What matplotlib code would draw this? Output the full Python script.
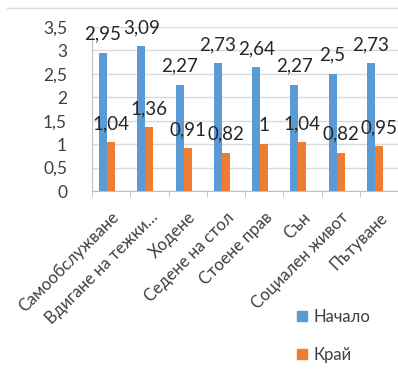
import matplotlib

matplotlib.use("Agg")
import matplotlib.pyplot as plt  # noqa: E402
import numpy as np  # noqa: E402
from matplotlib.lines import Line2D  # noqa: E402

categories = ["Самообслужване", "Вдигане на тежки…", "Ходене", "Седене на стол",
              "Стоене прав", "Сън", "Социален живот", "Пътуване"]
start_vals = [2.95, 3.09, 2.27, 2.73, 2.64, 2.27, 2.5, 2.73]
end_vals = [1.04, 1.36, 0.91, 0.82, 1.0, 1.04, 0.82, 0.95]
series_names = ["Начало", "Край"]
yticks = [0, 0.5, 1, 1.5, 2, 2.5, 3, 3.5]

BLUE = "#5b9bd5"
ORANGE = "#ed7d31"


def fmt(v):
    s = f"{v:.2f}".rstrip("0").rstrip(".")
    return s.replace(".", ",")


plt.rcParams["font.family"] = ["Lato", "DejaVu Sans"]

W, H = 398, 379
fig = plt.figure(figsize=(W / 100, H / 100), dpi=100)
ax = fig.add_axes([92 / W, 1 - 191 / H, (398 - 92) / W, (191 - 27) / H])

x = np.arange(len(categories))
bw = 0.21
# bars sit slightly left of the category centre, as in the original
ax.bar(x - bw, start_vals, bw, color=BLUE, label=series_names[0], zorder=3)
ax.bar(x, end_vals, bw, color=ORANGE, label=series_names[1], zorder=3)

for xs, vals in ((x - bw, start_vals), (x, end_vals)):
    for xi, v in zip(xs, vals):
        ax.annotate(fmt(v), (xi, v), xytext=(0, 9.5), textcoords="offset points",
                    ha="center", va="baseline", fontsize=13.5, color="#262626",
                    zorder=4)

ax.set_xlim(-0.5, len(categories) - 0.5)
ax.set_ylim(0, 3.5)
ax.set_yticks(yticks)
ax.set_yticklabels([fmt(t) for t in yticks], fontsize=12.5, color="#404040")
ax.yaxis.grid(True, color="#d9d9d9", lw=1, zorder=0)
ax.tick_params(axis="y", length=0, pad=18)

ax.set_xticks(np.arange(len(categories) + 1) - 0.5, minor=True)
ax.set_xticks(x)
ax.set_xticklabels(categories, rotation=45, ha="right", rotation_mode="anchor",
                   fontsize=12, color="#404040")
ax.tick_params(axis="x", which="major", length=0, pad=13)
ax.tick_params(axis="x", which="minor", length=4, color="#bfbfbf")

for s in ("top", "right"):
    ax.spines[s].set_visible(False)
ax.spines["left"].set_color("#bfbfbf")
ax.spines["bottom"].set_color("#bfbfbf")

handles = [plt.Rectangle((0, 0), 1, 1, color=BLUE),
           plt.Rectangle((0, 0), 1, 1, color=ORANGE)]
fig.legend(handles, series_names, loc="upper left",
           bbox_to_anchor=(282 / W, 1 - 294 / H), frameon=False,
           fontsize=12, labelcolor="#404040", handlelength=0.6,
           handleheight=0.6, handletextpad=0.4, labelspacing=1.3)

fig.add_artist(Line2D([7 / W, 1], [1 - 8 / H, 1 - 8 / H], color="#d9d9d9", lw=1))

fig.savefig("out.png", dpi=100)
